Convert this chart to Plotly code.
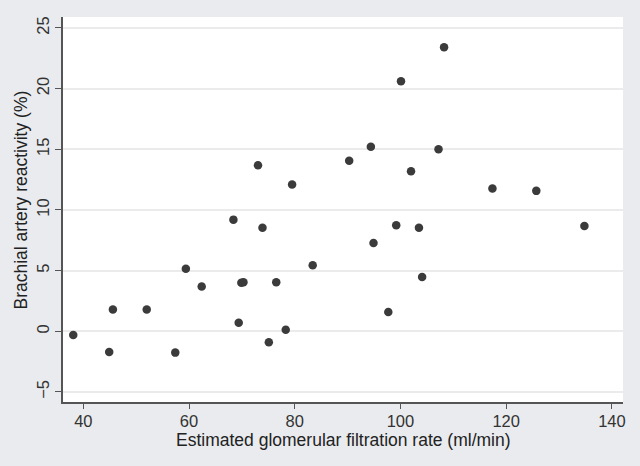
import plotly.graph_objects as go

egfr = [38.1, 44.9, 45.6, 52.0, 57.4, 59.4, 62.4, 69.4, 69.9, 70.3, 75.1, 76.5, 78.3, 83.4,
        73.05, 79.5, 68.4, 73.9,
        108.25, 100.1, 94.4, 107.2, 90.3, 102.0, 117.4, 125.7, 99.2, 103.5, 134.8,
        94.9, 104.1, 97.7]
bar = [-0.3, -1.7, 1.8, 1.8, -1.76, 5.16, 3.68, 0.71, 4.0, 4.04, -0.9, 4.04, 0.13, 5.44,
       13.68, 12.09, 9.2, 8.54,
       23.4, 20.6, 15.2, 15.0, 14.06, 13.19, 11.76, 11.57, 8.74, 8.54, 8.68,
       7.28, 4.48, 1.59]

x_ticks = [40, 60, 80, 100, 120, 140]
y_ticks = [-5, 0, 5, 10, 15, 20, 25]
x_title = "Estimated glomerular filtration rate (ml/min)"
y_title = "Brachial artery reactivity (%)"

fig = go.Figure()
fig.add_trace(go.Scatter(x=egfr, y=bar, mode="markers",
                         marker=dict(size=8.5, color="#3b3b3b"), showlegend=False))

font = "Liberation Sans, Arial, sans-serif"
fig.update_layout(
    width=640, height=466,
    margin=dict(l=63, r=17, t=17, b=64),
    paper_bgcolor="#e9ebee", plot_bgcolor="#ffffff",
    font=dict(family=font, size=16, color="#333333"),
    xaxis=dict(range=[36.16, 142.1], tickvals=x_ticks, showgrid=False, zeroline=False,
               showline=True, linecolor="#555555", linewidth=1.5,
               ticks="outside", ticklen=5, tickcolor="#555555", tickwidth=1.2,
               ticklabelstandoff=-2,
               tickfont=dict(size=16.5, color="#333333")),
    yaxis=dict(range=[-5.83, 25.9], tickvals=y_ticks, showgrid=True, gridcolor="#ebebeb",
               gridwidth=1.5, zeroline=False,
               showline=True, linecolor="#555555", linewidth=1.5,
               ticks="outside", ticklen=6, tickcolor="#555555", tickwidth=1.2,
               tickangle=-90, tickfont=dict(size=16.5, color="#333333")),
    annotations=[
        dict(text=y_title, textangle=-90, xref="paper", yref="paper",
             x=(20.5 - 63) / 560, y=(402 - 200) / 385,
             xanchor="center", yanchor="middle", showarrow=False,
             font=dict(size=17.5, color="#222222")),
        dict(text=x_title, xref="paper", yref="paper",
             x=(343.5 - 63) / 560, y=(402 - 440) / 385,
             xanchor="center", yanchor="middle", showarrow=False,
             font=dict(size=17.5, color="#222222")),
    ],
)
fig.write_html("out.html", config={"displayModeBar": False},
               post_script="document.body.style.margin='0';")
